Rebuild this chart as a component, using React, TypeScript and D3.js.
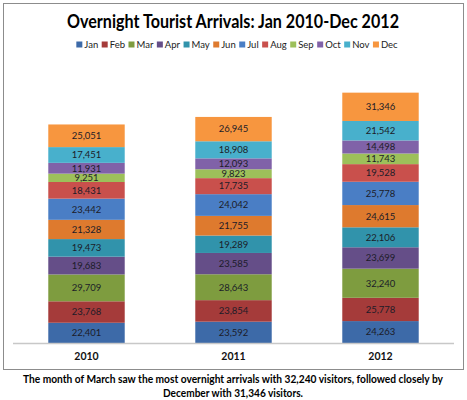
import React, { useEffect, useRef } from 'react';
import * as d3 from 'd3';

const years = ['2010', '2011', '2012'];
const months = ['Jan', 'Feb', 'Mar', 'Apr', 'May', 'Jun', 'Jul', 'Aug', 'Sep', 'Oct', 'Nov', 'Dec'];
const arrivals2010 = [22401, 23768, 29709, 19683, 19473, 21328, 23442, 18431, 9251, 11931, 17451, 25051];
const arrivals2011 = [23592, 23854, 28643, 23585, 19289, 21755, 24042, 17735, 9823, 12093, 18908, 26945];
const arrivals2012 = [24263, 25778, 32240, 23699, 22106, 24615, 25778, 19528, 11743, 14498, 21542, 31346];
const monthColors = [
  '#3d6aa8', '#a53b3a', '#7e9c3f', '#654e88', '#3193ab', '#de7a2e',
  '#4a7ec5', '#c9504c', '#9dc05a', '#8062a8', '#48b0cc', '#f7963f',
];
const title = 'Overnight Tourist Arrivals: Jan 2010-Dec 2012';
const captionLines = [
  'The month of March saw the most overnight arrivals with 32,240 visitors, followed closely by',
  'December with 31,346 visitors.',
];

const W = 467;
const H = 400;
const FONT = 'Lato, "Open Sans", sans-serif';

interface Row {
  year: string;
  [month: string]: number | string;
}

const App: React.FC = () => {
  const svgRef = useRef<SVGSVGElement>(null);

  useEffect(() => {
    if (!svgRef.current) return;
    const svg = d3.select(svgRef.current);
    svg.selectAll('*').remove();

    const rows: Row[] = years.map((year, i) => {
      const vals = [arrivals2010, arrivals2011, arrivals2012][i];
      const r: Row = { year };
      months.forEach((m, j) => { r[m] = vals[j]; });
      return r;
    });

    const series = d3.stack<Row>().keys(months).value((d, k) => d[k] as number)(rows);

    const x = d3.scaleBand<string>()
      .domain(years)
      .range([13, 454])
      .paddingInner(0.48)
      .paddingOuter(0.24);

    const y = d3.scaleLinear().domain([0, 300000]).range([343, 72]);

    const color = d3.scaleOrdinal<string, string>().domain(months).range(monthColors);

    svg.append('rect')
      .attr('width', W)
      .attr('height', H)
      .attr('fill', '#ffffff');

    // chart frame
    svg.append('rect')
      .attr('x', 3.5)
      .attr('y', 3.5)
      .attr('width', 460)
      .attr('height', 366)
      .attr('fill', 'none')
      .attr('stroke', '#8c8c8c')
      .attr('stroke-width', 1);

    // title squeezed to the narrow Calibri-like width of the original
    svg.append('text')
      .attr('x', 233)
      .attr('y', 28)
      .attr('text-anchor', 'middle')
      .attr('font-family', FONT)
      .attr('font-size', 18)
      .attr('font-weight', 'bold')
      .attr('fill', '#000')
      .attr('textLength', 332)
      .attr('lengthAdjust', 'spacingAndGlyphs')
      .text(title);

    // legend
    const legend = svg.append('g');
    let lx = 0;
    const gap = 3.5;
    months.forEach(m => {
      const item = legend.append('g').attr('transform', `translate(${lx},0)`);
      item.append('rect')
        .attr('x', 0)
        .attr('y', -6.5)
        .attr('width', 6)
        .attr('height', 6)
        .attr('fill', color(m));
      const t = item.append('text')
        .attr('x', 8)
        .attr('y', 0)
        .attr('font-family', FONT)
        .attr('font-size', 9.5)
        .attr('fill', '#222')
        .text(m);
      const tw = (t.node() as SVGTextElement).getComputedTextLength();
      lx += 8 + tw + gap;
    });
    const legendW = lx - gap;
    legend.attr('transform', `translate(${237 - legendW / 2},48)`);

    // bars
    const groups = svg.append('g')
      .selectAll('g')
      .data(series)
      .join('g')
      .attr('fill', d => color(d.key));

    groups.selectAll('rect')
      .data(d => d)
      .join('rect')
      .attr('x', d => x(d.data.year)!)
      .attr('y', d => y(d[1]))
      .attr('width', x.bandwidth())
      .attr('height', d => y(d[0]) - y(d[1]));

    const fmt = d3.format(',');
    groups.selectAll('text')
      .data(d => d.map(v => ({ v, key: d.key })))
      .join('text')
      .attr('x', d => x(d.v.data.year)! + x.bandwidth() / 2)
      .attr('y', d => (y(d.v[0]) + y(d.v[1])) / 2)
      .attr('dy', '0.35em')
      .attr('text-anchor', 'middle')
      .attr('font-family', FONT)
      .attr('font-size', 9.5)
      .attr('fill', '#1c1c28')
      .text(d => fmt(d.v[1] - d.v[0]));

    // x axis
    svg.append('line')
      .attr('x1', 13)
      .attr('x2', 454)
      .attr('y1', 343.5)
      .attr('y2', 343.5)
      .attr('stroke', '#c8c8c8')
      .attr('stroke-width', 1.5);

    svg.append('g')
      .selectAll('text')
      .data(years)
      .join('text')
      .attr('x', d => x(d)! + x.bandwidth() / 2)
      .attr('y', 360)
      .attr('text-anchor', 'middle')
      .attr('font-family', FONT)
      .attr('font-size', 10.5)
      .attr('font-weight', 'bold')
      .attr('fill', '#111')
      .text(d => d);

    // caption below the frame
    const captionWidths = [420, 140];
    svg.append('g')
      .selectAll('text')
      .data(captionLines)
      .join('text')
      .attr('x', 233)
      .attr('y', (d, i) => 383 + i * 14)
      .attr('text-anchor', 'middle')
      .attr('font-family', FONT)
      .attr('font-size', 11)
      .attr('font-weight', 'bold')
      .attr('fill', '#000')
      .attr('textLength', (d, i) => captionWidths[i])
      .attr('lengthAdjust', 'spacingAndGlyphs')
      .text(d => d);
  }, []);

  return (
    <div style={{ position: 'absolute', left: 0, top: 0 }}>
      <svg ref={svgRef} width={W} height={H} style={{ display: 'block' }} />
    </div>
  );
};

export default App;
